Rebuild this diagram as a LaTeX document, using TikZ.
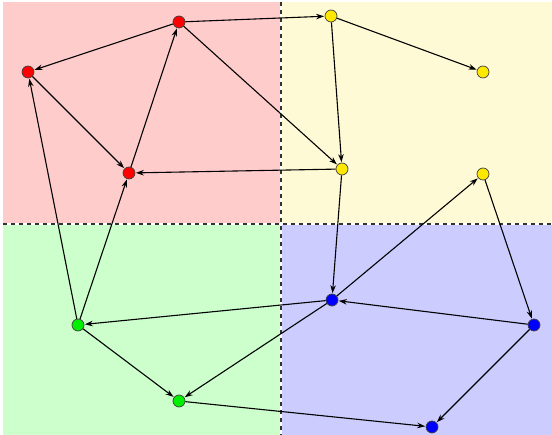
\documentclass[tikz,border=0pt]{standalone}
\usetikzlibrary{arrows.meta}
\definecolor{bgR}{RGB}{255,204,204}
\definecolor{bgY}{RGB}{255,250,214}
\definecolor{bgG}{RGB}{204,255,204}
\definecolor{bgB}{RGB}{204,204,255}
\definecolor{nR}{RGB}{255,0,0}
\definecolor{nY}{RGB}{255,232,0}
\definecolor{nG}{RGB}{0,240,0}
\definecolor{nB}{RGB}{0,0,255}
\begin{document}
\begin{tikzpicture}[x=1pt,y=-1pt,
  vtx/.style={circle,draw=black!75,line width=0.7pt,minimum size=12pt,inner sep=0pt},
  edge/.style={-{Stealth[length=8pt,width=5.5pt]},line width=1.1pt,shorten >=0.5pt},
  sepbase/.style={draw=white,line width=1.4pt},
  sep/.style={dash pattern=on 4pt off 4pt,draw=black!80,line width=1.4pt}]
\useasboundingbox (0,0) rectangle (552,435);
\fill[white] (0,0) rectangle (552,435);
\fill[bgR] (3,2) rectangle (281,224);
\fill[bgY] (281,2) rectangle (552,224);
\fill[bgG] (3,224) rectangle (281,435);
\fill[bgB] (281,224) rectangle (552,435);
\draw[sepbase] (281,2) -- (281,435);
\draw[sepbase] (3,224) -- (552,224);
\draw[sep] (281,2) -- (281,435);
\draw[sep] (3,224) -- (552,224);
\node[vtx,fill=nR] (r1) at (179,22) {};
\node[vtx,fill=nR] (r2) at (28,72) {};
\node[vtx,fill=nR] (r3) at (129,173) {};
\node[vtx,fill=nY] (y1) at (331,16) {};
\node[vtx,fill=nY] (y2) at (483,72) {};
\node[vtx,fill=nY] (y3) at (342,169) {};
\node[vtx,fill=nY] (y4) at (483,174) {};
\node[vtx,fill=nB] (b1) at (332,300) {};
\node[vtx,fill=nB] (b2) at (534,325) {};
\node[vtx,fill=nB] (b3) at (432,427) {};
\node[vtx,fill=nG] (g1) at (78,325) {};
\node[vtx,fill=nG] (g2) at (179,401) {};
\draw[edge] (r1) -- (y1);
\draw[edge] (r1) -- (r2);
\draw[edge] (r1) -- (y3);
\draw[edge] (r2) -- (r3);
\draw[edge] (r3) -- (r1);
\draw[edge] (y3) -- (r3);
\draw[edge] (y1) -- (y2);
\draw[edge] (y1) -- (y3);
\draw[edge] (y3) -- (b1);
\draw[edge] (b1) -- (y4);
\draw[edge] (y4) -- (b2);
\draw[edge] (b2) -- (b1);
\draw[edge] (b2) -- (b3);
\draw[edge] (b1) -- (g1);
\draw[edge] (b1) -- (g2);
\draw[edge] (g1) -- (r2);
\draw[edge] (g1) -- (r3);
\draw[edge] (g1) -- (g2);
\draw[edge] (g2) -- (b3);
\end{tikzpicture}
\end{document}
